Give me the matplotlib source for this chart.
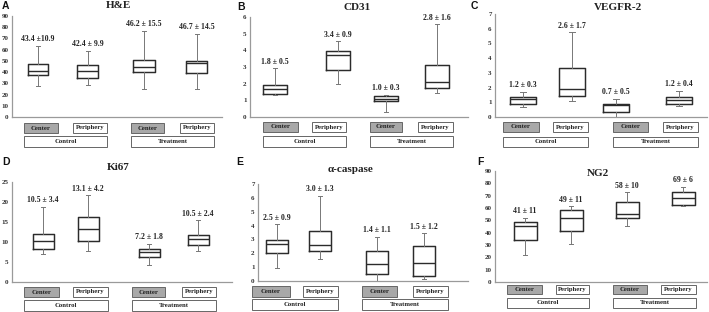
import matplotlib
matplotlib.use("Agg")
import matplotlib.pyplot as plt
from matplotlib.patches import Rectangle

# ---------------- data ----------------
groups = ["Center", "Periphery", "Center", "Periphery"]
conditions = ["Control", "Treatment"]
titles = ["H&E", "CD31", "VEGFR-2", "Ki67", "\u03b1-caspase", "NG2"]
letters = ["A", "B", "C", "D", "E", "F"]

# five-number summaries per box: [whisker low, Q1, median, Q3, whisker high]
he_box = [[27.9, 37.1, 41.2, 47.2, 63.5], [28.5, 34.7, 40.7, 46.6, 59.0],
          [25.0, 40.0, 44.5, 51.0, 76.9], [24.9, 39.2, 48.0, 49.6, 74.2]]
cd31_box = [[1.30, 1.40, 1.68, 1.94, 2.94], [1.98, 2.80, 3.70, 3.94, 4.54],
            [0.30, 0.94, 1.08, 1.24, 1.34], [1.44, 1.72, 2.12, 3.10, 5.58]]
vegfr_box = [[0.65, 0.88, 1.24, 1.33, 1.70], [1.06, 1.40, 1.90, 3.32, 5.76],
             [0.00, 0.34, 0.80, 0.90, 1.24], [0.77, 0.88, 1.17, 1.33, 1.80]]
ki67_box = [[6.9, 8.3, 10.25, 11.9, 18.75], [7.75, 10.25, 13.3, 16.25, 21.7],
            [4.2, 6.25, 7.5, 8.2, 9.6], [7.75, 9.3, 10.8, 11.8, 15.4]]
casp_box = [[0.92, 2.05, 2.68, 2.97, 4.10], [1.57, 2.13, 2.60, 3.62, 6.16],
            [0.00, 0.50, 1.23, 2.13, 3.21], [0.12, 0.36, 1.28, 2.49, 3.45]]
ng2_box = [[21.9, 34.2, 45.8, 48.5, 52.0], [30.7, 41.0, 52.0, 58.0, 61.6],
           [45.8, 52.0, 54.8, 65.2, 72.6], [61.6, 62.5, 68.5, 72.6, 77.3]]

he_labels = ["43.4 \u00b110.9", "42.4 \u00b1 9.9", "46.2 \u00b1 15.5", "46.7 \u00b1 14.5"]
cd31_labels = ["1.8 \u00b1 0.5", "3.4 \u00b1 0.9", "1.0 \u00b1 0.3", "2.8 \u00b1 1.6"]
vegfr_labels = ["1.2 \u00b1 0.3", "2.6 \u00b1 1.7", "0.7 \u00b1 0.5", "1.2 \u00b1 0.4"]
ki67_labels = ["10.5 \u00b1 3.4", "13.1 \u00b1 4.2", "7.2 \u00b1 1.8", "10.5 \u00b1 2.4"]
casp_labels = ["2.5 \u00b1 0.9", "3.0 \u00b1 1.3", "1.4 \u00b1 1.1", "1.5 \u00b1 1.2"]
ng2_labels = ["41 \u00b1 11", "49 \u00b1 11", "58 \u00b1 10", "69 \u00b1 6"]

he_ticks = list(range(0, 91, 10))
cd31_ticks = list(range(0, 7))
vegfr_ticks = list(range(0, 8))
ki67_ticks = list(range(0, 26, 5))
casp_ticks = list(range(0, 8))
ng2_ticks = list(range(0, 91, 10))

all_boxes = [he_box, cd31_box, vegfr_box, ki67_box, casp_box, ng2_box]
all_labels = [he_labels, cd31_labels, vegfr_labels, ki67_labels, casp_labels, ng2_labels]
all_ticks = [he_ticks, cd31_ticks, vegfr_ticks, ki67_ticks, casp_ticks, ng2_ticks]

# ---------------- layout (pixels) ----------------
W, H = 709, 312
layout = [
    dict(ax=(12, 222, 16, 117), pos=[38, 88, 144, 197], bw=21, title=(119, 6), letter=(2, 6),
         laby=(123, 133, 136, 147), labx=[(24, 58), (73, 107), (131, 164), (180, 214)]),
    dict(ax=(250, 468, 17, 117), pos=[275, 338, 386, 437], bw=24, title=(357, 7), letter=(237, 7),
         laby=(122, 132, 136, 147), labx=[(263, 298), (312, 346), (370, 402), (418, 453)]),
    dict(ax=(495, 707, 14, 117), pos=[523, 572, 616, 679], bw=26, title=(618, 7), letter=(471, 6),
         laby=(122, 132, 137, 147), labx=[(503, 539), (553, 588), (613, 648), (663, 698)]),
    dict(ax=(12, 232, 182, 282), pos=[43, 88, 149, 198], bw=21, title=(118, 168), letter=(2, 162),
         laby=(287, 297, 300, 311), labx=[(24, 59), (73, 108), (132, 165), (182, 216)]),
    dict(ax=(258, 468, 184, 281), pos=[277, 320, 377, 424], bw=22, title=(351, 169), letter=(236, 162),
         laby=(286, 297, 299, 310), labx=[(252, 290), (303, 338), (362, 397), (413, 448)]),
    dict(ax=(495, 707, 171, 282), pos=[525, 571, 627, 683], bw=23, title=(598, 173), letter=(477, 162),
         laby=(285, 294, 298, 308), labx=[(507, 542), (556, 589), (613, 647), (661, 696)]),
]

SERIF = ["Liberation Serif", "DejaVu Serif"]
SANS = ["Liberation Sans", "DejaVu Sans"]
BOXC = "#2b2b2b"
WHISC = "#777777"
SPINEC = "#9a9a9a"

fig = plt.figure(figsize=(W / 100, H / 100), dpi=100)
fig.patch.set_facecolor("white")


def fx(x):
    return x / W


def fy(y):
    return 1 - y / H


for i in range(6):
    L = layout[i]
    l, r, t, b = L["ax"]
    ax = fig.add_axes([fx(l), fy(b), (r - l) / W, (b - t) / H])
    ax.set_facecolor("none")
    ticks = all_ticks[i]
    ax.set_ylim(0, ticks[-1])
    ax.set_xlim(0, 1)
    positions = [(p - l) / (r - l) for p in L["pos"]]
    width = L["bw"] / (r - l)
    stats = []
    for bx in all_boxes[i]:
        stats.append(dict(whislo=bx[0], q1=bx[1], med=bx[2], q3=bx[3], whishi=bx[4], fliers=[]))
    ax.bxp(stats, positions=positions, widths=width, showfliers=False, manage_ticks=False,
           patch_artist=False,
           boxprops=dict(color=BOXC, linewidth=1.05),
           medianprops=dict(color=BOXC, linewidth=1.0),
           whiskerprops=dict(color=WHISC, linewidth=0.7),
           capprops=dict(color=WHISC, linewidth=0.7),
           capwidths=width * 0.2)
    for p, bx, lab in zip(positions, all_boxes[i], all_labels[i]):
        ax.annotate(lab, xy=(p, bx[4]), xytext=(0, 1.8), textcoords="offset points",
                    ha="center", va="bottom", fontsize=5.6, fontweight="bold",
                    family=SERIF, color="#222222")
    for s in ["top", "right"]:
        ax.spines[s].set_visible(False)
    for s in ["left", "bottom"]:
        ax.spines[s].set_color(SPINEC)
        ax.spines[s].set_linewidth(0.9)
    ax.set_xticks([])
    ax.set_yticks(ticks)
    ax.set_yticklabels([str(v) for v in ticks], fontsize=5, fontweight="bold",
                       family=SERIF, color="#333333")
    ax.tick_params(axis="y", length=0, pad=2.5)

    # title and panel letter
    fig.text(fx(L["title"][0]), fy(L["title"][1]), titles[i], ha="center", va="center",
             fontsize=8, fontweight="bold", family=SERIF, color="#222222")
    fig.text(fx(L["letter"][0]), fy(L["letter"][1]), letters[i], ha="left", va="center",
             fontsize=7.5, fontweight="bold", family=SANS, color="#111111")

    # category label boxes
    y0, y1, y2, y3 = L["laby"]
    for k in range(4):
        x0, x1 = L["labx"][k]
        fc = "#a8a8a8" if groups[k] == "Center" else "white"
        fig.patches.append(Rectangle((fx(x0), fy(y1)), (x1 - x0) / W, (y1 - y0) / H,
                                     transform=fig.transFigure, facecolor=fc,
                                     edgecolor="#666666", linewidth=0.7))
        fig.text(fx((x0 + x1) / 2), fy((y0 + y1) / 2), groups[k], ha="center", va="center",
                 fontsize=4.8, fontweight="bold", family=SERIF, color="#222222")
    for c in range(2):
        x0 = L["labx"][2 * c][0]
        x1 = L["labx"][2 * c + 1][1]
        fig.patches.append(Rectangle((fx(x0), fy(y3)), (x1 - x0) / W, (y3 - y2) / H,
                                     transform=fig.transFigure, facecolor="white",
                                     edgecolor="#666666", linewidth=0.7))
        fig.text(fx((x0 + x1) / 2), fy((y2 + y3) / 2), conditions[c], ha="center", va="center",
                 fontsize=4.8, fontweight="bold", family=SERIF, color="#222222")

fig.savefig("out.png", dpi=100, facecolor="white")
